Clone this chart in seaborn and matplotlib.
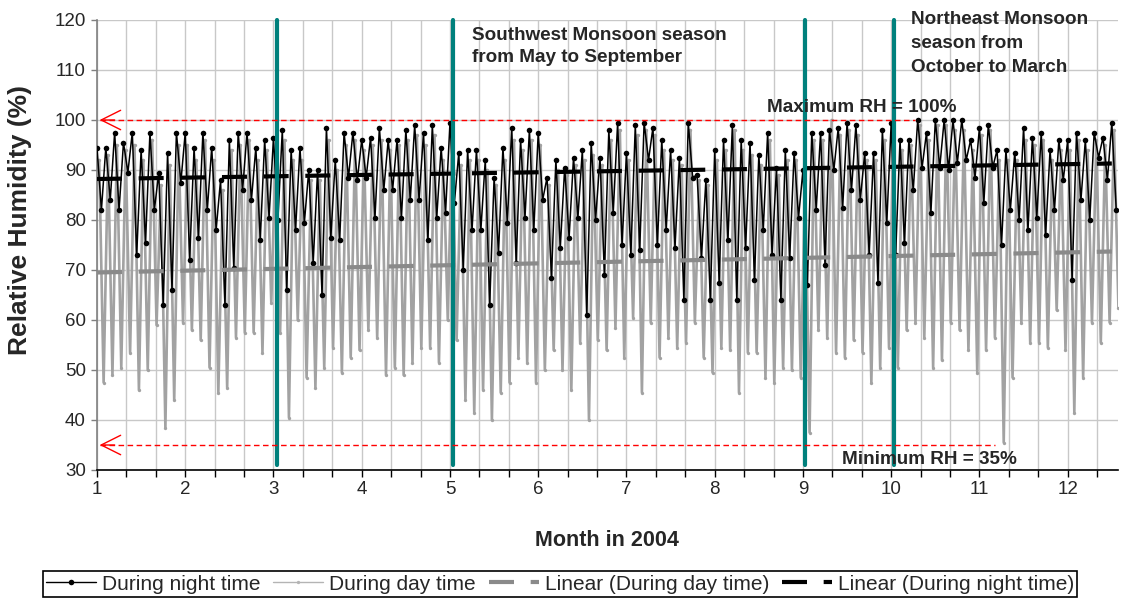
import numpy as np
import pandas as pd
import matplotlib
matplotlib.use("Agg")
import matplotlib.pyplot as plt
from matplotlib.ticker import MultipleLocator
import seaborn as sns

months = np.round(np.arange(1.0, 12.55, 0.1), 1)

night_hi = [94.5, 94.5, 97.5, 95.5, 97.5, 94, 97.5, 89.5, 93.5, 97.5,
            97.5, 94.5, 97.5, 94.5, 88, 96, 97.5, 97.5, 94.5, 96,
            96.5, 98, 94, 94.5, 90, 90, 98.5, 92, 97.5, 97.5,
            96, 96.5, 98.5, 96, 96, 98, 99, 97.5, 99, 94.5,
            99.5, 93.5, 94, 94, 92, 88.5, 94.5, 98.5, 96, 98,
            97.5, 88.5, 92, 90.5, 92.5, 94, 95.5, 92.5, 98, 99.5,
            93.5, 99, 99.5, 98.5, 96, 94, 92.5, 99.5, 89, 88,
            94, 96, 99, 96, 95.5, 93, 97.5, 90.5, 94, 93.5,
            90, 97.5, 97.5, 98, 98.5, 99.5, 99, 93.5, 93.5, 98,
            99.5, 96, 96, 100, 97.5, 100, 100, 100, 100, 96,
            98.5, 99, 94, 94, 93.5, 98.5, 96.5, 97.5, 94, 96,
            96, 97.5, 96, 97.5, 96.5, 99.5]
night_lo = [82, 84, 82, 89.5, 73, 75.5, 82, 63, 66, 87.5,
            72, 76.5, 82, 78, 63, 70.5, 86, 84, 76, 80.5,
            80, 66, 78, 79.5, 71.5, 65, 76.5, 76, 88.5, 88,
            88.5, 80.5, 86, 86, 80.5, 84, 84, 76, 80.5, 81.5,
            83.5, 70, 78, 78, 63, 73.5, 79.5, 71.5, 80.5, 78,
            84, 68.5, 74.5, 76.5, 80.5, 61, 80, 69, 81.5, 75,
            73, 74, 92, 75, 78, 74.5, 64, 88.5, 72.5, 64,
            67.5, 76, 64, 74.5, 68, 78, 73, 64, 72.5, 80.5,
            67, 82, 71, 90, 82.5, 86, 84, 73, 67.5, 79.5,
            73, 75.5, 86, 90.5, 81.5, 90.5, 90, 91.5, 92, 88.5,
            83.5, 90.5, 75, 82, 80, 78, 80.5, 77, 82, 88,
            68, 84, 80, 92.5, 88, 82]
day_hi = [92, 93, 95, 94, 95, 92, 96, 87, 91, 95,
          95, 92, 96, 92, 86, 94, 95, 96, 92, 94,
          94, 96, 92, 92, 88, 88, 96, 90, 95, 96,
          94, 95, 96, 94, 95, 96, 97, 95, 97, 92,
          97, 91, 92, 92, 90, 87, 92, 96, 94, 96,
          95, 87, 90, 89, 91, 92, 93, 91, 96, 98,
          92, 97, 98, 97, 94, 92, 91, 98, 88, 87,
          92, 94, 98, 94, 93, 91, 96, 89, 92, 92,
          88, 96, 96, 100, 97, 98, 97, 92, 92, 96,
          98, 94, 95, 99, 96, 99, 99, 98, 98, 94,
          97, 98, 92, 92, 92, 96, 95, 96, 92, 94,
          94, 96, 94, 96, 95, 98]
day_lo = [47.5, 49, 50.5, 53.5, 46, 50, 59, 38.5, 44, 59.5,
          58, 56, 50.5, 45.5, 46.5, 56.5, 57.5, 57.5, 53.5, 63.5,
          57.5, 40.5, 60, 48.5, 46.5, 50.5, 54.5, 49.5, 52.5, 54,
          58, 56.5, 49, 50.5, 49, 51.5, 54.5, 54.5, 51.5, 60,
          56, 44, 41.5, 46, 40, 45.5, 47.5, 52.5, 51.5, 47.5,
          50, 54, 50, 46, 55.5, 40, 56, 54, 58.5, 52.5,
          60.5, 45.5, 59.5, 52.5, 56.5, 54.5, 55.5, 59.5, 52.5, 49.5,
          54.5, 54, 45.5, 53.5, 53.5, 48.5, 47.5, 50.5, 50, 48.5,
          37.5, 58, 56.5, 53.5, 52.5, 56, 53.5, 47.5, 50.5, 54.5,
          50.5, 58, 59.5, 56.5, 50.5, 52, 59.5, 58, 54, 49.5,
          54, 56.5, 35.5, 48.5, 59.5, 55.5, 55.5, 54.5, 62, 54,
          41.5, 48.5, 59.5, 55.5, 59.5, 62.5]

trend_months = [1.0, 12.5]
day_trend = [69.5, 73.7]
night_trend = [88.2, 91.3]

season_lines = [3.04, 5.03, 9.02, 10.03]
max_rh = 100
min_rh = 35
max_line_end = 10.27
min_line_end = 11.18

xticks = list(range(1, 13))
yticks = list(range(30, 121, 10))

# ---------------- figure ----------------
sns.set_theme(style="white")
plt.rcParams["font.family"] = ["Liberation Sans", "DejaVu Sans"]

W, H = 1121, 601
fig = plt.figure(figsize=(W / 100, H / 100), dpi=100)
ax = fig.add_axes([97 / W, 1 - 470 / H, (1118 - 97) / W, 450 / H])

n = len(months)
m = np.asarray(months)
# interleave high/low samples into zig-zag series
xd = np.empty(2 * n); yd = np.empty(2 * n)
xd[0::2] = m + 0.025; xd[1::2] = m + 0.075
yd[0::2] = day_hi; yd[1::2] = day_lo
xn = np.empty(2 * n); yn = np.empty(2 * n)
xn[0::2] = m; xn[1::2] = m + 0.05
yn[0::2] = night_hi; yn[1::2] = night_lo

day_df = pd.DataFrame({"month": xd, "rh": yd})
night_df = pd.DataFrame({"month": xn, "rh": yn})

sns.lineplot(data=day_df, x="month", y="rh", sort=False, estimator=None,
             color="#a2a2a2", lw=1.9, marker="o", markersize=2.4,
             markeredgewidth=0, ax=ax, label="During day time", zorder=2)
sns.lineplot(data=night_df, x="month", y="rh", sort=False, estimator=None,
             color="black", lw=1.1, marker="o", markersize=4,
             markeredgewidth=0, ax=ax, label="During night time", zorder=3)
ax.plot(trend_months, day_trend, color="#8a8a8a", lw=3,
        linestyle=(0, (6, 4)), label="Linear (During day time)", zorder=4)
ax.plot(trend_months, night_trend, color="black", lw=3,
        linestyle=(0, (6, 4)), label="Linear (During night time)", zorder=4)

for s in season_lines:
    ax.plot([s, s], [31, 120], color="#00807c", lw=3, zorder=6, clip_on=False)

# red reference lines with open arrow heads
ax.plot([1.03, max_line_end], [max_rh, max_rh], color="red", lw=1,
        linestyle=(0, (4, 2.5)), zorder=7)
ax.plot([1.03, min_line_end], [min_rh, min_rh], color="red", lw=1,
        linestyle=(0, (4, 2.5)), zorder=7)
for yv in (max_rh, min_rh):
    ax.annotate("", xy=(1.03, yv), xytext=(1.2, yv),
                arrowprops=dict(arrowstyle="->,head_length=0.7,head_width=0.35",
                                color="red", lw=1, shrinkA=0, shrinkB=0,
                                mutation_scale=20), zorder=7)

ax.set_xlim(1, 12.57)
ax.set_ylim(30, 120)
ax.set_xticks(xticks)
ax.set_yticks(yticks)
ax.xaxis.set_minor_locator(MultipleLocator(1 / 3))
ax.set_axisbelow(True)
ax.grid(which="both", axis="x", color="#c8c8c8", lw=1)
ax.grid(which="major", axis="y", color="#c8c8c8", lw=1)
for side in ("top", "right"):
    ax.spines[side].set_visible(False)
ax.spines["left"].set_color("#808080")
ax.spines["bottom"].set_color("black")
ax.spines["left"].set_linewidth(1.2)
ax.spines["bottom"].set_linewidth(1.2)
ax.tick_params(axis="x", which="both", direction="out", length=5, width=1,
               color="black", bottom=True, labelsize=13.5, pad=3)
ax.tick_params(axis="y", which="major", direction="out", length=4, width=1,
               color="#808080", left=True, labelsize=13.5, pad=4)
ax.set_xlabel("")
ax.set_ylabel("")

fig.text(607 / W, 1 - 540 / H, "Month in 2004", ha="center", va="center",
         fontsize=15.5, fontweight="bold")
fig.text(20 / W, 1 - 220 / H, "Relative Humidity (%)", ha="center", va="center",
         rotation=90, fontsize=19, fontweight="bold")

ax.text(5.25, 118.6, "Southwest Monsoon season\nfrom May to September",
        ha="left", va="top", fontsize=13.6, fontweight="bold", linespacing=1.4,
        zorder=8)
ax.text(10.22, 121.8, "Northeast Monsoon\nseason from\nOctober to March",
        ha="left", va="top", fontsize=13.6, fontweight="bold", linespacing=1.55,
        zorder=8, clip_on=False)
ax.text(8.59, 102.6, "Maximum RH = 100%", ha="left", va="center",
        fontsize=13.6, fontweight="bold", zorder=8)
ax.text(9.44, 32.2, "Minimum RH = 35%", ha="left", va="center",
        fontsize=13.6, fontweight="bold", zorder=8)

leg = ax.get_legend()
if leg is not None:
    leg.remove()
handles, labels = ax.get_legend_handles_labels()
order = ["During night time", "During day time",
         "Linear (During day time)", "Linear (During night time)"]
hmap = dict(zip(labels, handles))
lg = fig.legend([hmap[k] for k in order], order, loc="center",
                bbox_to_anchor=(560 / W, 1 - 584 / H), ncol=4, fontsize=15,
                frameon=True, fancybox=False, edgecolor="black", framealpha=1,
                borderpad=0.15, handlelength=2.4, handletextpad=0.3,
                columnspacing=0.6, borderaxespad=0)
lg.get_frame().set_linewidth(1.2)
lh = lg.legend_handles
lh[0].set_linewidth(1.0)
lh[1].set_linewidth(1.0)
lh[1].set_color("#b4b4b4")

fig.savefig("out.png", dpi=100)
